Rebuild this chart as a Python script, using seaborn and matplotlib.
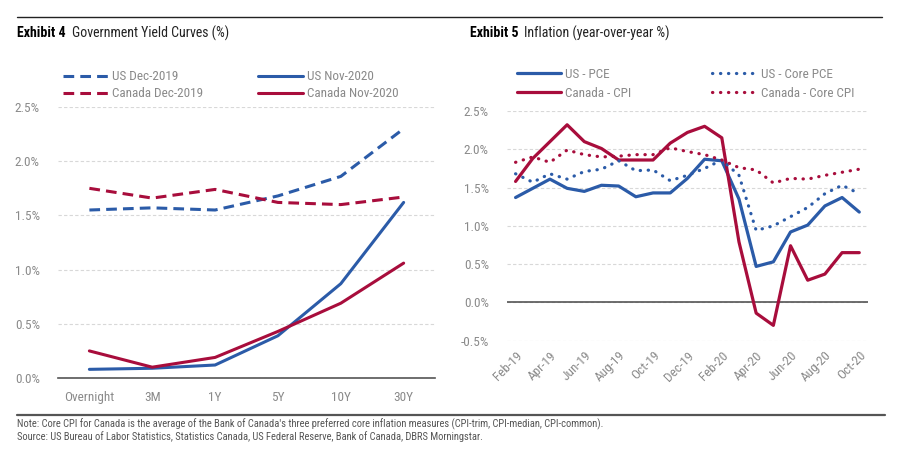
import pandas as pd
import matplotlib.pyplot as plt
import seaborn as sns

# curvas de juros
plazos = ['Overnight', '3M', '1Y', '5Y', '10Y', '30Y']
us_dec19 = [1.55, 1.57, 1.55, 1.68, 1.86, 2.30]
can_dec19 = [1.75, 1.66, 1.74, 1.62, 1.60, 1.67]
us_nov20 = [0.08, 0.09, 0.12, 0.39, 0.87, 1.62]
can_nov20 = [0.25, 0.10, 0.19, 0.43, 0.69, 1.06]

# inflação mensal
meses = ['Feb-19', 'Mar-19', 'Apr-19', 'May-19', 'Jun-19', 'Jul-19', 'Aug-19',
         'Sep-19', 'Oct-19', 'Nov-19', 'Dec-19', 'Jan-20', 'Feb-20', 'Mar-20',
         'Apr-20', 'May-20', 'Jun-20', 'Jul-20', 'Aug-20', 'Sep-20', 'Oct-20']
us_pce = [1.37, 1.49, 1.61, 1.49, 1.45, 1.53, 1.52, 1.38, 1.43, 1.43, 1.62,
          1.87, 1.85, 1.35, 0.47, 0.53, 0.92, 1.01, 1.26, 1.37, 1.18]
us_core_pce = [1.68, 1.57, 1.68, 1.61, 1.71, 1.74, 1.85, 1.72, 1.73, 1.59, 1.66,
               1.75, 1.86, 1.66, 0.94, 1.00, 1.12, 1.24, 1.42, 1.53, 1.42]
can_cpi = [1.58, 1.88, 2.10, 2.32, 2.10, 2.01, 1.86, 1.86, 1.86, 2.08, 2.22,
           2.30, 2.15, 0.79, -0.14, -0.30, 0.74, 0.29, 0.37, 0.65, 0.65]
can_core_cpi = [1.83, 1.90, 1.83, 1.99, 1.93, 1.90, 1.91, 1.93, 1.93, 2.02, 1.97,
                1.93, 1.86, 1.76, 1.73, 1.56, 1.62, 1.61, 1.66, 1.70, 1.74]

AZUL = '#2b5ba8'
VERMELHO = '#a80d3c'
CINZA = '#8a8a8a'

sns.set_style('white')
plt.rcParams['font.family'] = ['Roboto Condensed', 'Liberation Sans', 'DejaVu Sans']

fig = plt.figure(figsize=(9, 4.66), dpi=100)

# monta tabelas longas
df_yc = pd.DataFrame({
    'plazo': plazos * 4,
    'valor': us_dec19 + can_dec19 + us_nov20 + can_nov20,
    'serie': ['US Dec-2019'] * 6 + ['Canada Dec-2019'] * 6 + ['US Nov-2020'] * 6 + ['Canada Nov-2020'] * 6,
})
df_inf = pd.DataFrame({
    'mes': meses * 4,
    'valor': us_pce + can_cpi + us_core_pce + can_core_cpi,
    'serie': ['US - PCE'] * 21 + ['Canada - CPI'] * 21 + ['US - Core PCE'] * 21 + ['Canada - Core CPI'] * 21,
})


def estilo_eixo(ax):
    for s in ['top', 'right', 'left']:
        ax.spines[s].set_visible(False)
    ax.yaxis.grid(True, linestyle=(0, (3, 2)), color='#d8d8d8', linewidth=0.8)
    ax.set_axisbelow(True)
    ax.tick_params(axis='both', length=0, labelsize=9.5, labelcolor=CINZA)
    ax.set_xlabel('')
    ax.set_ylabel('')


# Exhibit 4
ax1 = fig.add_axes([0.0644, 0.1888, 0.419, 0.5815])
sns.lineplot(data=df_yc, x='plazo', y='valor', hue='serie', style='serie',
             palette={'US Dec-2019': AZUL, 'Canada Dec-2019': VERMELHO,
                      'US Nov-2020': AZUL, 'Canada Nov-2020': VERMELHO},
             dashes={'US Dec-2019': (3.5, 2), 'Canada Dec-2019': (3.5, 2),
                     'US Nov-2020': '', 'Canada Nov-2020': ''},
             linewidth=2.2, sort=False, ax=ax1)
estilo_eixo(ax1)
ax1.set_xlim(-0.5, 5.5)
ax1.set_ylim(0, 2.5)
ax1.set_yticks([0, 0.5, 1.0, 1.5, 2.0, 2.5])
ax1.set_yticklabels(['{:.1f}%'.format(v) for v in [0, 0.5, 1.0, 1.5, 2.0, 2.5]])
ax1.spines['bottom'].set_color('#555555')
ax1.spines['bottom'].set_linewidth(1.2)
ax1.tick_params(axis='x', pad=9)
ax1.tick_params(axis='y', pad=13)
h, l = ax1.get_legend_handles_labels()
ordem = ['US Dec-2019', 'Canada Dec-2019', 'US Nov-2020', 'Canada Nov-2020']
ax1.legend([h[l.index(o)] for o in ordem], ordem, ncol=2, frameon=False,
           loc='upper left', bbox_to_anchor=(0.07, 0.849), bbox_transform=fig.transFigure,
           fontsize=9.5, labelcolor=CINZA, handlelength=3.4, handletextpad=0.3,
           columnspacing=4.2, labelspacing=0.3, borderpad=0, borderaxespad=0)

# Exhibit 5
ax2 = fig.add_axes([0.5633, 0.2689, 0.401, 0.4929])
sns.lineplot(data=df_inf, x='mes', y='valor', hue='serie', style='serie',
             palette={'US - PCE': AZUL, 'Canada - CPI': VERMELHO,
                      'US - Core PCE': AZUL, 'Canada - Core CPI': VERMELHO},
             dashes={'US - PCE': '', 'Canada - CPI': '',
                     'US - Core PCE': (0.1, 2.4), 'Canada - Core CPI': (0.1, 2.4)},
             linewidth=2.3, sort=False, dash_capstyle='round', ax=ax2)
estilo_eixo(ax2)
ax2.spines['bottom'].set_visible(False)
ax2.axhline(0, color='#555555', linewidth=1.2, zorder=1)
ax2.set_xlim(-0.5, 20.5)
ax2.set_ylim(-0.5, 2.5)
ax2.set_yticks([-0.5, 0, 0.5, 1.0, 1.5, 2.0, 2.5])
ax2.set_yticklabels(['{:.1f}%'.format(v) for v in [-0.5, 0, 0.5, 1.0, 1.5, 2.0, 2.5]])
ax2.set_xticks(range(0, 21, 2))
ax2.set_xticklabels(meses[::2], rotation=45, ha='right', rotation_mode='anchor')
ax2.tick_params(axis='x', pad=6)
ax2.tick_params(axis='y', pad=13)
h, l = ax2.get_legend_handles_labels()
ordem = ['US - PCE', 'Canada - CPI', 'US - Core PCE', 'Canada - Core CPI']
ax2.legend([h[l.index(o)] for o in ordem], ordem, ncol=2, frameon=False,
           loc='upper left', bbox_to_anchor=(0.574, 0.854), bbox_transform=fig.transFigure,
           fontsize=9.5, labelcolor=CINZA, handlelength=3.4, handletextpad=0.3,
           columnspacing=6.1, labelspacing=0.45, borderpad=0, borderaxespad=0)

# títulos
fig.canvas.draw()
rend = fig.canvas.get_renderer()
for x0, num, txt in [(17, 'Exhibit 4', 'Government Yield Curves (%)'),
                     (470, 'Exhibit 5', 'Inflation (year-over-year %)')]:
    t = fig.text(x0 / 900, 1 - 33 / 466, num, fontsize=10, fontweight='bold', va='center', color='black')
    bb = t.get_window_extent(rend)
    fig.text((bb.x1 + 6) / 900, 1 - 33 / 466, txt, fontsize=10, va='center', color='#222222')

# linhas de moldura
fig.add_artist(plt.Line2D([17 / 900, 882 / 900], [1 - 17 / 466] * 2, color='#222222', linewidth=1.0))
fig.add_artist(plt.Line2D([17 / 900, 885 / 900], [1 - 415 / 466] * 2, color='#555555', linewidth=1.6))

fig.text(17 / 900, 1 - 424 / 466, "Note: Core CPI for Canada is the average of the Bank of Canada's three preferred core inflation measures (CPI-trim, CPI-median, CPI-common).",
         fontsize=7.6, color='#555555', va='center')
fig.text(17 / 900, 1 - 437 / 466, 'Source: US Bureau of Labor Statistics, Statistics Canada, US Federal Reserve, Bank of Canada, DBRS Morningstar.',
         fontsize=7.6, color='#555555', va='center')

fig.savefig('out.png', dpi=100)
